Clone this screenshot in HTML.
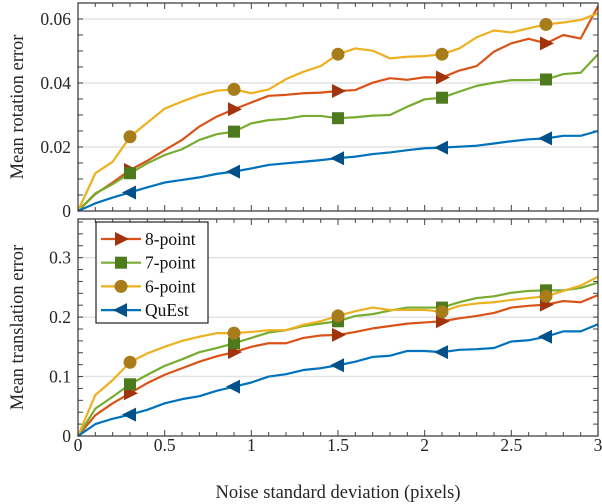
<!DOCTYPE html>
<html><head><meta charset="utf-8"><style>
body{margin:0;background:#fff}
svg{display:block;font-family:"Liberation Serif",serif}
</style></head><body>
<svg id="c" width="602" height="504"></svg>
<script>
const xs=[0,0.1,0.2,0.3,0.4,0.5,0.6,0.7,0.8,0.9,1.0,1.1,1.2,1.3,1.4,1.5,1.6,1.7,1.8,1.9,2.0,2.1,2.2,2.3,2.4,2.5,2.6,2.7,2.8,2.9,3.0];
const rot8=[0,0.0053,0.0089,0.0128,0.0157,0.019,0.0222,0.0264,0.0295,0.0318,0.0339,0.036,0.0363,0.0368,0.037,0.0375,0.0378,0.0401,0.0415,0.041,0.0418,0.0417,0.0439,0.0453,0.0498,0.0524,0.0538,0.0524,0.055,0.0539,0.064];
const rot7=[0,0.0055,0.0084,0.0118,0.0149,0.0175,0.0193,0.0222,0.024,0.0248,0.0274,0.0284,0.0288,0.0297,0.0297,0.029,0.0293,0.0298,0.03,0.0326,0.0349,0.0354,0.0373,0.0391,0.0401,0.0409,0.0409,0.0411,0.0428,0.0432,0.049];
const rot6=[0,0.0118,0.0154,0.0232,0.0276,0.032,0.0342,0.0362,0.0376,0.038,0.0368,0.038,0.0412,0.0435,0.0453,0.049,0.0508,0.0501,0.0477,0.0482,0.0484,0.049,0.0508,0.0543,0.0564,0.0558,0.0571,0.0583,0.0589,0.0597,0.0618];
const rotQ=[0,0.0024,0.0042,0.0058,0.0074,0.0089,0.0097,0.0105,0.0116,0.0123,0.0133,0.0144,0.0149,0.0154,0.0159,0.0165,0.017,0.0178,0.0183,0.019,0.0196,0.0198,0.0201,0.0204,0.0211,0.0218,0.0224,0.0227,0.0235,0.0235,0.025];
const tr8=[0,0.035,0.055,0.072,0.089,0.103,0.114,0.125,0.134,0.141,0.150,0.156,0.156,0.165,0.169,0.170,0.175,0.181,0.185,0.189,0.191,0.193,0.198,0.202,0.207,0.216,0.219,0.221,0.227,0.225,0.237];
const tr7=[0,0.046,0.066,0.087,0.103,0.118,0.129,0.141,0.148,0.156,0.165,0.174,0.178,0.185,0.189,0.193,0.202,0.205,0.211,0.216,0.216,0.216,0.225,0.232,0.235,0.241,0.244,0.245,0.245,0.249,0.258];
const tr6=[0,0.069,0.094,0.124,0.139,0.150,0.160,0.167,0.173,0.173,0.175,0.178,0.178,0.187,0.193,0.202,0.210,0.216,0.212,0.212,0.212,0.209,0.219,0.223,0.225,0.229,0.232,0.235,0.244,0.253,0.268];
const trQ=[0,0.020,0.029,0.036,0.044,0.055,0.062,0.067,0.076,0.083,0.090,0.100,0.104,0.111,0.114,0.119,0.125,0.133,0.135,0.143,0.143,0.141,0.145,0.146,0.148,0.159,0.161,0.167,0.176,0.176,0.188];
const markerIdx=[3,9,15,21,27];
const xTicks=[0,0.5,1,1.5,2,2.5,3];
const xTickLabels=["0","0.5","1","1.5","2","2.5","3"];
const rotTicks=[0,0.02,0.04,0.06];
const rotTickLabels=["0","0.02","0.04","0.06"];
const trTicks=[0,0.1,0.2,0.3];
const trTickLabels=["0","0.1","0.2","0.3"];
const names=["8-point","7-point","6-point","QuEst"];

const NS="http://www.w3.org/2000/svg";
const svg=document.getElementById('c');
function mk(t,a,p){const e=document.createElementNS(NS,t);for(const k in a)e.setAttribute(k,a[k]);(p||svg).appendChild(e);return e;}
const L=78,R=598;
const X=v=>L+(R-L)*v/3;
const styles=[{c:"#D95319",m:"#A2340D",s:"tri-r"},{c:"#77AC30",m:"#4E7A1E",s:"sq"},{c:"#EDB120",m:"#A67D1A",s:"circ"},{c:"#0072BD",m:"#00508A",s:"tri-l"}];
function marker(g,x,y,st){
  if(st.s==="tri-r")mk('polygon',{points:`${x-6},${y-7} ${x+8},${y} ${x-6},${y+7}`,fill:st.m},g);
  else if(st.s==="tri-l")mk('polygon',{points:`${x+6},${y-7} ${x-8},${y} ${x+6},${y+7}`,fill:st.m},g);
  else if(st.s==="sq")mk('rect',{x:x-6,y:y-6,width:12,height:12,fill:st.m},g);
  else mk('circle',{cx:x,cy:y,r:6.5,fill:st.m},g);
}
function panel(id,top,bot,ymax,series,ticks,labels,minor,title){
  const Y=v=>bot-(bot-top)*v/ymax;
  const g=mk('g',{});
  
  
  ticks.forEach((t,i)=>{
    if(t>0){const gl=mk('line',{x1:L,x2:R,y1:Y(t),y2:Y(t),stroke:"#e3e3e3","stroke-width":1.5},g);}
    const tx=mk('text',{x:L-7,y:Y(t)+6,"text-anchor":"end","font-size":17.5,fill:"#262626"},g);tx.textContent=labels[i];
    
  });
  for(let v=0;v<=ymax+1e-9;v+=minor){mk('line',{x1:L,x2:L+5,y1:Y(v),y2:Y(v),stroke:"#444"},g);mk('line',{x1:R,x2:R-5,y1:Y(v),y2:Y(v),stroke:"#444"},g);}
  for(let v=0;v<=3.0001;v+=0.1){const big=xTicks.some(t=>Math.abs(t-v)<1e-6);const h=big?6:4;mk('line',{x1:X(v),x2:X(v),y1:bot,y2:bot-h,stroke:"#444"},g);mk('line',{x1:X(v),x2:X(v),y1:top,y2:top+h,stroke:"#444"},g);}
  series.forEach((d,si)=>{
    const st=styles[si];
    const sg=mk('g',{},g);
    
    
    mk('polyline',{points:d.map((v,i)=>X(xs[i])+","+Y(v)).join(" "),fill:"none",stroke:st.c,"stroke-width":2.2,"stroke-linejoin":"round"},sg);
    markerIdx.forEach(i=>marker(sg,X(xs[i]),Y(d[i]),st));
  });
  mk('rect',{x:L,y:top,width:R-L,height:bot-top,fill:"none",stroke:"#333","stroke-width":1.2},g);
  const yt=mk('text',{x:0,y:0,transform:`translate(23,${(top+bot)/2}) rotate(-90)`,"text-anchor":"middle","font-size":18.5,fill:"#262626"},g);
  yt.textContent=title;
}
panel('rotation-panel',3,211,0.065,[rot8,rot7,rot6,rotQ],rotTicks,rotTickLabels,0.005,'Mean rotation error');
panel('translation-panel',219,436,0.365,[tr8,tr7,tr6,trQ],trTicks,trTickLabels,0.02,'Mean translation error');
xTicks.forEach((t,i)=>{const tx=mk('text',{x:X(t),y:451,"text-anchor":"middle","font-size":17.5,fill:"#262626"});tx.textContent=xTickLabels[i];
});
const xt=mk('text',{x:338,y:498,"text-anchor":"middle","font-size":18.5,fill:"#262626"});xt.textContent="Noise standard deviation (pixels)";

const lg=mk('g',{});


mk('rect',{x:96,y:222,width:112,height:101,fill:"#fff",stroke:"#222","stroke-width":1.2},lg);
names.forEach((n,i)=>{const y=239+i*23.7;const st=styles[i];
  const e=mk('g',{},lg);
  mk('line',{x1:101,x2:141,y1:y,y2:y,stroke:st.c,"stroke-width":2.2},e);marker(e,121,y,st);
  const t=mk('text',{x:145,y:y+6,"font-size":17.5,fill:"#111"},e);t.textContent=n;});
</script>
</body></html>
